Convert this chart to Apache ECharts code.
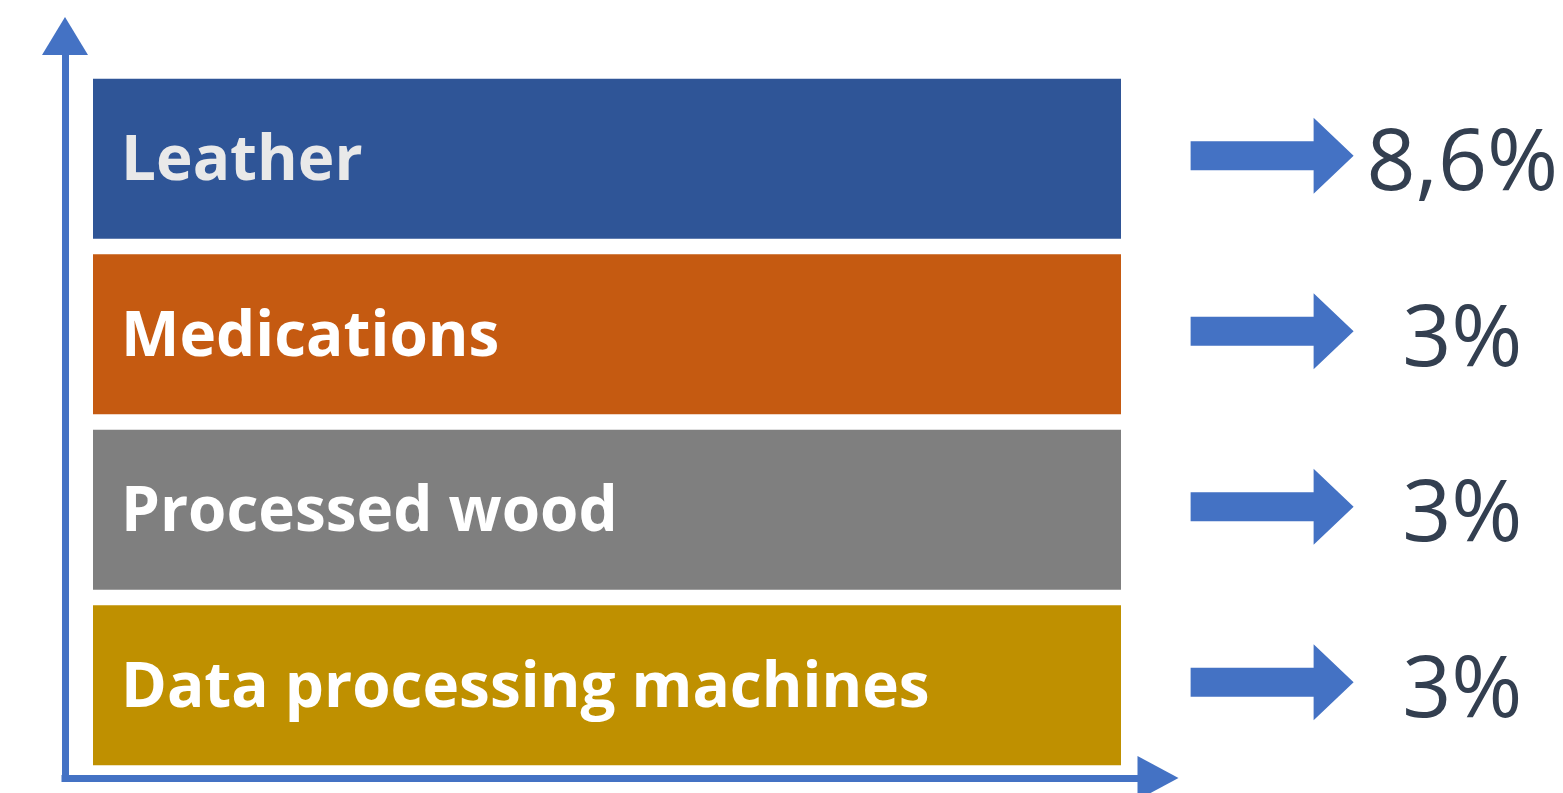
<!DOCTYPE html>
<html>
<head>
<meta charset="utf-8">
<script src="https://cdn.jsdelivr.net/npm/echarts@6/dist/echarts.min.js"></script>
<style>
  html, body { margin: 0; padding: 0; background: #fff; }
  #chart { width: 1563px; height: 793px; }
</style>
</head>
<body>
<div id="chart"></div>
<script>
// data
const categories = ['Leather', 'Medications', 'Processed wood', 'Data processing machines'];
const barLength = [100, 100, 100, 100];   // all boxes drawn full width
const shareValues = [8.6, 3, 3, 3];         // % shown at the arrows

// styles
const barColors = ['#2F5597', '#C55A11', '#7F7F7F', '#BF9000'];
const labelColors = ['#E9E9E9', '#FFFFFF', '#FFFFFF', '#FFFFFF'];
const arrowBlue = '#4472C4';

const fmtShare = v => String(v).replace('.', ',') + '%';

const chart = echarts.init(document.getElementById('chart'));

const hiddenAxisBits = {
    axisTick: { show: false },
    axisLabel: { show: false },
    splitLine: { show: false }
};

const option = {
    animation: false,
    backgroundColor: '#fff',
    grid: [
        { left: 93, right: 442, top: 71, bottom: 20 },  // boxes
        { left: 65, right: 405, top: 36, bottom: 15 }   // arrow axes
    ],
    xAxis: [
        { gridIndex: 0, type: 'value', min: 0, max: 100, show: false },
        {
            gridIndex: 1, type: 'value', min: 0, max: 1,
            axisLine: {
                show: true,
                symbol: ['none', 'triangle'],
                symbolSize: [44, 41],
                lineStyle: { color: arrowBlue, width: 7, cap: 'square' }
            },
            ...hiddenAxisBits
        }
    ],
    yAxis: [
        { gridIndex: 0, type: 'category', data: categories, inverse: true, show: false },
        {
            gridIndex: 1, type: 'value', min: 0, max: 1,
            axisLine: {
                show: true,
                symbol: ['none', 'triangle'],
                symbolSize: [46, 38],
                lineStyle: { color: arrowBlue, width: 7, cap: 'square' }
            },
            ...hiddenAxisBits
        }
    ],
    series: [
        {
            type: 'bar',
            xAxisIndex: 0,
            yAxisIndex: 0,
            barWidth: 160,
            silent: true,
            data: barLength.map((v, i) => ({
                value: v,
                itemStyle: { color: barColors[i] },
                label: { color: labelColors[i] }
            })),
            label: {
                show: true,
                position: 'insideLeft',
                distance: 28,
                offset: [0, 4],
                formatter: p => categories[p.dataIndex],
                fontFamily: 'Open Sans',
                fontWeight: 'bold',
                fontSize: 62
            }
        },
        {
            // block arrows pointing at the shares
            type: 'scatter',
            xAxisIndex: 0,
            yAxisIndex: 0,
            clip: false,
            silent: true,
            symbol: 'path://M0,23.5 L123,23.5 L123,0 L163,38 L123,76 L123,52.5 L0,52.5 Z',
            symbolSize: [163, 76],
            symbolOffset: [0, -3],
            itemStyle: { color: arrowBlue, opacity: 1 },
            data: categories.map(c => [114.7, c])
        },
        {
            // share text
            type: 'scatter',
            xAxisIndex: 0,
            yAxisIndex: 0,
            clip: false,
            silent: true,
            symbolSize: 1,
            itemStyle: { color: 'rgba(0,0,0,0)', opacity: 1 },
            data: categories.map(c => [133.2, c]),
            label: {
                show: true,
                position: 'inside',
                offset: [0, 7],
                formatter: p => fmtShare(shareValues[p.dataIndex]),
                fontFamily: 'Open Sans',
                fontSize: 86,
                color: '#333F50'
            }
        }
    ]
};

chart.setOption(option);
</script>
</body>
</html>
